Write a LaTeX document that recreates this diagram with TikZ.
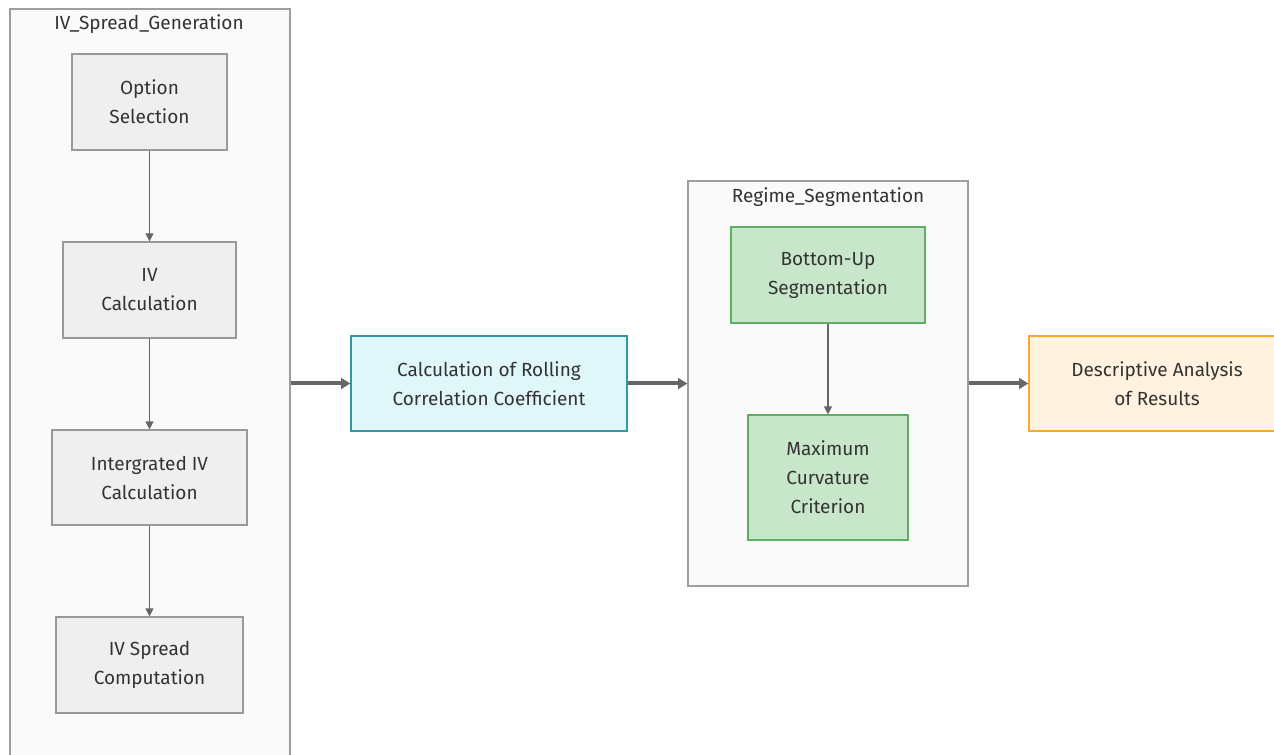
\documentclass[tikz,border=0pt]{standalone}
\usepackage{fontspec}
\setmainfont{Fira Sans}
\usetikzlibrary{arrows.meta}
\definecolor{clfill}{HTML}{FAFAFA}
\definecolor{cldraw}{HTML}{9E9E9E}
\definecolor{gfill}{HTML}{EFEFEF}
\definecolor{gdraw}{HTML}{999999}
\definecolor{cfill}{HTML}{E0F7FA}
\definecolor{cdraw}{HTML}{2E9AA5}
\definecolor{grfill}{HTML}{C8E6C9}
\definecolor{grdraw}{HTML}{5DAF62}
\definecolor{ofill}{HTML}{FFF3E0}
\definecolor{odraw}{HTML}{FFA726}
\definecolor{txt}{HTML}{333333}
\definecolor{arr}{HTML}{666666}
\tikzset{
  box/.style={rectangle, inner sep=0pt, align=center, text=txt, font=\fontsize{14.25pt}{21.75pt}\selectfont, line width=0.9pt},
  graybox/.style={box, fill=gfill, draw=gdraw},
  cyanbox/.style={box, fill=cfill, draw=cdraw},
  greenbox/.style={box, fill=grfill, draw=grdraw},
  orangebox/.style={box, fill=ofill, draw=odraw},
  cluster/.style={rectangle, inner sep=0pt, fill=clfill, draw=cldraw, line width=0.9pt},
  cltitle/.style={text=txt, font=\fontsize{14.25pt}{17pt}\selectfont, inner sep=0pt},
  thin/.style={draw=arr, line width=0.9pt, -{Triangle[length=6pt,width=6pt]}},
  thick/.style={draw=arr, line width=3pt, -{Triangle[length=7pt,width=8pt]}},
}
\begin{document}
\begin{tikzpicture}[x=0.75pt,y=-0.75pt]
\useasboundingbox (0,0) rectangle (1274,755);
\clip (0,0) rectangle (1274,755);
\fill[white] (0,0) rectangle (1274,755);
% clusters
\node[cluster, minimum width=280*0.75pt, minimum height=780*0.75pt] (c1) at (150,399) {};
\node[cltitle] (t1) at (149,24.5) {IV\_Spread\_Generation};
\node[cluster, minimum width=280*0.75pt, minimum height=405*0.75pt] (c2) at (828,383.5) {};
\node[cltitle] (t2) at (828,197.5) {Regime\_Segmentation};
% nodes
\node[graybox, minimum width=155*0.75pt, minimum height=96*0.75pt] (opt) at (149.5,102) {Option\\Selection};
\node[graybox, minimum width=173*0.75pt, minimum height=96*0.75pt] (ivc) at (149.5,290) {IV\\Calculation};
\node[graybox, minimum width=195*0.75pt, minimum height=95*0.75pt] (iiv) at (149.5,477.5) {Intergrated IV\\Calculation};
\node[graybox, minimum width=187*0.75pt, minimum height=96*0.75pt] (ivs) at (149.5,665) {IV Spread\\Computation};
\node[cyanbox, minimum width=276*0.75pt, minimum height=95*0.75pt] (roll) at (489,383.5) {Calculation of Rolling\\Correlation Coefficient};
\node[greenbox, minimum width=194*0.75pt, minimum height=96*0.75pt] (bu) at (828,275) {Bottom-Up\\Segmentation};
\node[greenbox, minimum width=160*0.75pt, minimum height=125*0.75pt] (mc) at (828,477.5) {Maximum\\Curvature\\Criterion};
\node[orangebox, minimum width=256*0.75pt, minimum height=95*0.75pt] (desc) at (1157,383.5) {Descriptive Analysis\\of Results};
% connectors
\draw[thin] (opt) -- (ivc);
\draw[thin] (ivc) -- (iiv);
\draw[thin] (iiv) -- (ivs);
\draw[thin] (bu) -- (mc);
\draw[thick] (c1.east |- roll.west) -- (roll.west);
\draw[thick] (roll.east) -- (c2.west |- roll.east);
\draw[thick] (c2.east |- desc.west) -- (desc.west);
\end{tikzpicture}
\end{document}
